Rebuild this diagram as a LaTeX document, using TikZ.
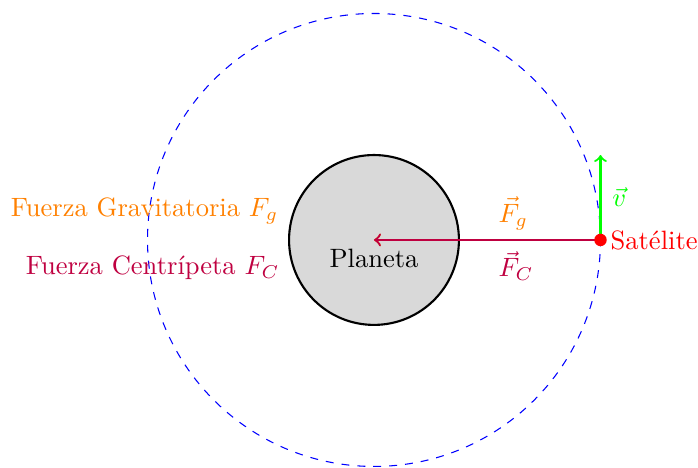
\documentclass[tikz,border=0pt]{standalone}
\begin{document}
\begin{tikzpicture}[scale=0.75,
  lbl/.style={inner sep=0pt},
  force/.style={->,thick}]
\useasboundingbox (-6.605,-4.027) rectangle (5.722,4.238);
\draw[blue,dashed] (0,0) circle (4);
\node[circle,draw,thick,fill=gray!30,minimum size=2.25cm,inner sep=0pt] (planet) at (0,0) {};
\coordinate (c) at (0,0);
\node[lbl,anchor=base] (pl) at (0,-0.495) {Planeta};
\coordinate (sat) at (4,0);
\coordinate (vend) at (4,1.5);
\draw[force,orange] (sat) -- (c);
\draw[force,purple] (sat) -- (c);
\draw[force,green] (sat) -- (vend);
\fill[red] (sat) circle (0.11);
\node[lbl,anchor=base west,red] (satl) at (4.17,-0.177) {Satélite};
\node[lbl,anchor=base west,green] (vl) at (4.2,0.59) {$\vec{v}$};
\node[lbl,anchor=base west,orange] (fgl) at (2.19,0.31) {$\vec{F}_g$};
\node[lbl,anchor=base west,purple] (fcl) at (2.19,-0.65) {$\vec{F}_C$};
\node[lbl,anchor=base east,orange] (fg) at (-1.68,0.406) {Fuerza Gravitatoria $F_g$};
\node[lbl,anchor=base east,purple] (fc) at (-1.66,-0.618) {Fuerza Centrípeta $F_C$};
\end{tikzpicture}
\end{document}
